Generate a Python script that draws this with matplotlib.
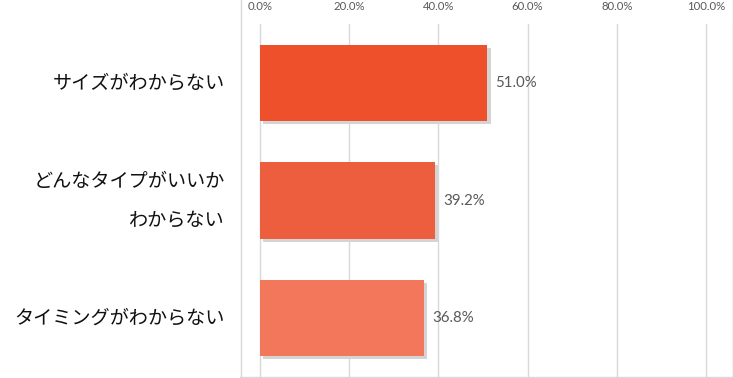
import matplotlib
matplotlib.use("Agg")
import matplotlib.pyplot as plt
import matplotlib.patheffects as pe

categories = ['サイズがわからない', 'どんなタイプがいいか\nわからない', 'タイミングがわからない']
values = [51.0, 39.2, 36.8]
colors = ['#EE502C', '#EC5E3D', '#F2775B']
xticks = [0, 20, 40, 60, 80, 100]

W, H = 733, 378
fig = plt.figure(figsize=(W / 100, H / 100), dpi=100, facecolor='white')
# axes box in pixels: left 240, right 733, top 24, bottom 377
ax = fig.add_axes([240 / W, (H - 377) / H, (733 - 240) / W, (377 - 24) / H])

px = (706 - 260) / 100.0
ax.set_xlim(-(260 - 240) / px, (733 - 260) / px)
ax.set_ylim(2.5, -0.5)

ax.grid(axis='x', color='#d9d9d9', linewidth=1)
ax.set_axisbelow(True)

ys = list(range(len(categories)))
bars = ax.barh(ys, values, height=0.647, color=colors, zorder=3)
for b in bars:
    b.set_path_effects([pe.SimplePatchShadow(offset=(2.2, -2.2), shadow_rgbFace='#d4d4d4', alpha=1.0),
                        pe.Normal()])

for y, v in zip(ys, values):
    ax.annotate(f'{v:.1f}%', xy=(v, y), xytext=(8, 0), textcoords='offset pixels',
                va='center', ha='left', fontsize=10.8, color='#595959', family='Lato')

ax.set_xticks(xticks)
ax.set_xticklabels([f'{t:.1f}%' for t in xticks], family='Lato', fontsize=8.2, color='#595959')
ax.xaxis.tick_top()
ax.tick_params(axis='x', length=0, pad=9)

ax.set_yticks([])
for y, c in zip(ys, categories):
    ax.text(-(260 - 225) / px, y, c, ha='right', va='center', fontsize=13.8,
            family=['Noto Sans CJK JP', 'DejaVu Sans'], color='#111111', linespacing=2.1)

for s in ['top', 'left']:
    ax.spines[s].set_visible(False)
for s in ['bottom', 'right']:
    ax.spines[s].set_color('#d9d9d9')
    ax.spines[s].set_linewidth(1)
# left frame line continues up to the top of the image
fig.add_artist(plt.Line2D([240.5 / W, 240.5 / W], [0, 1], color='#d9d9d9', linewidth=1))
fig.add_artist(plt.Line2D([732.5 / W, 732.5 / W], [0, 1], color='#d9d9d9', linewidth=1))

fig.savefig('out.png', dpi=100, facecolor='white')
